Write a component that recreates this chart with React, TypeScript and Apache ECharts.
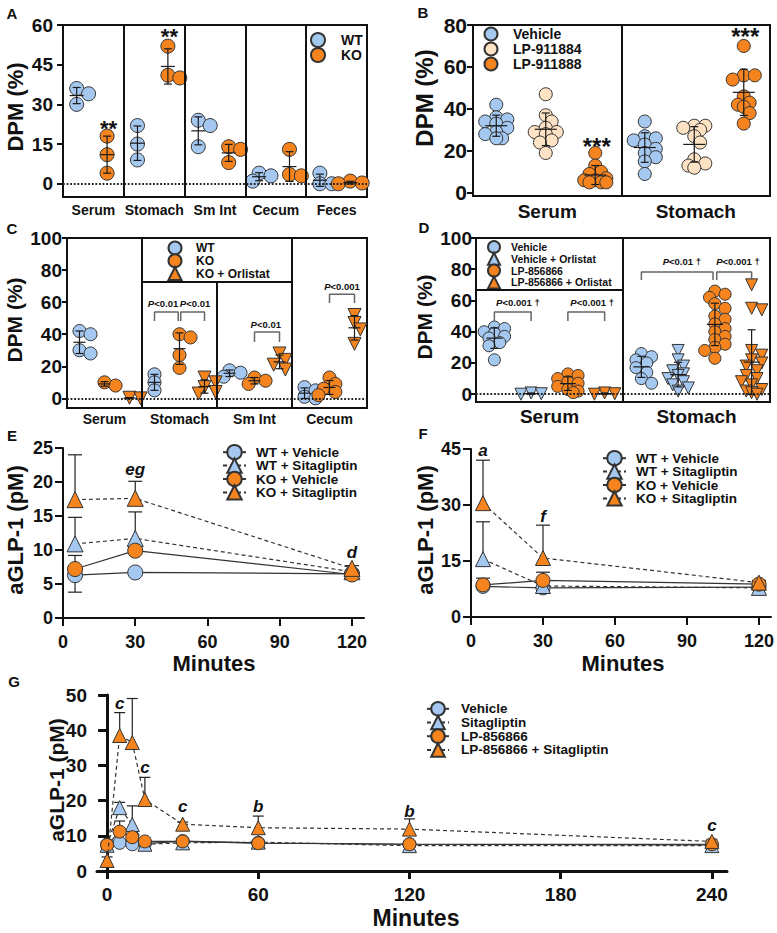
import { useEffect, useRef } from 'react';
import * as echarts from 'echarts';

const FONT = '"Liberation Sans", Arial, Helvetica, sans-serif';
const INK = '#111111';
const EDGE = '#333333';
const BLUE = '#a5c8f0';
const ORANGE = '#f5841f';
const PEACH = '#fde2c4';

// ---- A: tissue DPM, WT vs KO ----
const aTissues = ['Serum', 'Stomach', 'Sm Int', 'Cecum', 'Feces'];
const aWT = [[36, 34, 30], [22, 15, 9], [24, 22, 14], [4, 3, 1], [4, 0, 0]];
const aKO = [[18, 11, 4], [52, 41, 40], [14, 13, 8], [13, 3.5, 3], [1, 0.3, 0]];
const aTicks = [0, 15, 30, 45, 60];
const aStars = [{ text: '**', x: 1.5, y: 20.8 }, { text: '**', x: 3.5, y: 55.6 }];

// ---- B: vehicle vs LP compounds ----
const bTissues = ['Serum', 'Stomach'];
const bVehicle = [[42, 36, 35, 34, 33, 31, 29, 28, 26, 26], [34, 27, 26, 25, 23, 21, 19, 17, 15, 9]];
const bLP911884 = [[47, 37, 34, 31, 29, 29, 28, 25, 24, 19], [32, 32, 31, 30, 27, 24, 16, 14, 13, 12]];
const bLP911888 = [[19, 13, 10, 9, 7, 6, 6, 5, 5, 5], [70, 56, 56, 54, 46, 43, 42, 41, 38, 33]];
const bTicks = [0, 20, 40, 60, 80];
const bStars = [{ text: '***', x: 2.5, y: 22 }, { text: '***', x: 5.5, y: 74.3 }];

// ---- C: WT / KO / KO + Orlistat ----
const cTissues = ['Serum', 'Stomach', 'Sm Int', 'Cecum'];
const cWT = [[42, 40, 30, 28], [15, 10, 5], [17.5, 16, 13.5], [7, 5, 1, 0]];
const cKO = [[10, 8], [40, 38, 27, 19], [13, 11, 9], [13, 9, 6, 4, 2]];
const cKOOrlistat = [[0.4, 0], [13, 10, 7, 4, 3], [28, 24, 21, 18], [52, 47, 43, 34]];
const cTicks = [0, 20, 40, 60, 80, 100];
const cBrackets = [
  { x1: 3.5, x2: 4.45, y0: 48.3, y1: 53.9, tx: 3.84, ty: 58.9, text: '<0.01' },
  { x1: 4.55, x2: 5.5, y0: 48.3, y1: 53.9, tx: 5.12, ty: 58.9, text: '<0.01' },
  { x1: 7.5, x2: 8.5, y0: 35.2, y1: 41.4, tx: 7.95, ty: 45.8, text: '<0.01' },
  { x1: 10.5, x2: 11.5, y0: 59.5, y1: 65, tx: 11.0, ty: 69.5, text: '<0.001' },
];

// ---- D: Vehicle / LP-856866 with and without Orlistat ----
const dTissues = ['Serum', 'Stomach'];
const dVehicle = [[43, 42, 40, 39, 37, 36, 33, 31, 22], [26, 24, 22, 20, 17, 14, 10, 7]];
const dVehicleOrlistat = [[0.8, 0.3, 0], [28, 22, 18, 15, 13, 12, 10, 8, 6, 4, 2]];
const dLP856866 = [[13, 12, 10, 8, 7, 5, 3, 2, 1], [66, 64, 62, 58, 55, 50, 48, 45, 42, 40, 37, 35, 32, 30, 28, 23]];
const dLP856866Orlistat = [[0.8, 0.3, 0], [70, 55, 54, 28, 25, 22, 20, 18, 15, 12, 10, 8, 6, 3, 2, 1, 0]];
const dTicks = [0, 20, 40, 60, 80, 100];
const dBrackets = [
  { x1: 0.5, x2: 1.5, y0: 46.9, y1: 52.6, tx: 1.14, ty: 58.4, text: '<0.001 †' },
  { x1: 2.5, x2: 3.5, y0: 46.9, y1: 52.6, tx: 3.16, ty: 58.4, text: '<0.001 †' },
  { x1: 4.5, x2: 6.45, y0: 73.1, y1: 78.2, tx: 5.6, ty: 85, text: '<0.01 †' },
  { x1: 6.55, x2: 7.5, y0: 73.1, y1: 78.2, tx: 7.13, ty: 85, text: '<0.001 †' },
];

// ---- E: aGLP-1, 0-120 min ----
const eTimes = [5, 30, 120];
const eWTVehicle = [6.3, 6.7, 6.5];
const eWTVehicleSD = [2.5, 0.4, 0.3];
const eWTSitagliptin = [10.9, 11.7, 6.8];
const eWTSitagliptinSD = [3.9, 3.9, 0.3];
const eKOVehicle = [7.2, 9.9, 6.4];
const eKOVehicleSD = [2.0, 0.4, 0.3];
const eKOSitagliptin = [17.4, 17.6, 7.3];
const eKOSitagliptinSD = [6.6, 2.5, 0.4];
const eLetters = [{ text: 'e', x: 5, y: 25.2 }, { text: 'eg', x: 30, y: 21.8 }, { text: 'd', x: 120, y: 9.7 }];

// ---- F: aGLP-1, 0-120 min ----
const fTimes = [5, 30, 120];
const fWTVehicle = [8.2, 7.8, 8.0];
const fWTVehicleSD = [0.8, 0.5, 0.5];
const fWTSitagliptin = [15.5, 8.3, 7.8];
const fWTSitagliptinSD = [10, 1, 0.5];
const fKOVehicle = [8.6, 9.8, 8.8];
const fKOVehicleSD = [1.8, 2.2, 0.5];
const fKOSitagliptin = [30.5, 15.8, 9.2];
const fKOSitagliptinSD = [11.5, 8.8, 0.6];
const fLetters = [{ text: 'a', x: 5, y: 44.7 }, { text: 'f', x: 30, y: 27 }];

// ---- G: aGLP-1, 0-240 min ----
const gTimes = [0, 5, 10, 15, 30, 60, 120, 240];
const gVehicle = [7.5, 8, 7.6, 7.8, 8.5, 8, 7.6, 7.4];
const gVehicleSD = [0.8, 0.5, 0.5, 0.5, 0.5, 0.5, 0.5, 0.5];
const gSitagliptin = [7.3, 18, 13.2, 7.6, 8, 8.2, 7.2, 7.2];
const gSitagliptinSD = [0.5, 1.5, 5.3, 0.5, 0.5, 0.5, 0.5, 0.5];
const gLP856866 = [7.4, 11.2, 9.6, 8.4, 8.4, 7.9, 7.6, 7.6];
const gLP856866SD = [0.8, 3, 0.8, 0.6, 0.6, 0.5, 0.5, 0.5];
const gLP856866Sitagliptin = [3, 38.5, 36.5, 20.3, 13.3, 12.3, 11.9, 8.4];
const gLP856866SitagliptinSD = [1, 6.5, 12.5, 6.3, 0.6, 3.3, 2.9, 0.6];
const gLetters = [
  { text: 'c', x: 5, y: 47.5 }, { text: 'b', x: 10, y: 51.5 }, { text: 'c', x: 15, y: 29.5 },
  { text: 'c', x: 30, y: 18.2 }, { text: 'b', x: 60, y: 18.2 }, { text: 'b', x: 120, y: 17 },
  { text: 'c', x: 240, y: 13 },
];

const mean = (v: number[]) => v.reduce((a, b) => a + b, 0) / v.length;
const sd = (v: number[]) => {
  if (v.length < 2) return 0;
  const m = mean(v);
  return Math.sqrt(v.reduce((a, b) => a + (b - m) * (b - m), 0) / (v.length - 1));
};

// Spread overlapping dots sideways (compact beeswarm in pixel space).
function swarm(values: number[], center: number, d: number, pxX: number, pxY: number) {
  const placed: { px: number; py: number }[] = [];
  const out: number[][] = [];
  const sorted = [...values].sort((a, b) => b - a);
  const offsets = [0, 0.45, -0.45, 0.85, -0.85].map((f) => f * d);
  for (const v of sorted) {
    const py = v * pxY;
    let best = 0;
    let bestDist = -1;
    for (const off of offsets) {
      const md = placed.length ? Math.min(...placed.map((p) => Math.hypot(p.px - off, p.py - py))) : Infinity;
      if (md >= d * 0.6) {
        best = off;
        break;
      }
      if (md > bestDist + 1.5) {
        bestDist = md;
        best = off;
      }
    }
    placed.push({ px: best, py });
    out.push([center + best / pxX, v]);
  }
  return out;
}

const seg = (x1: number, y1: number, x2: number, y2: number, st: any) => ({ type: 'line', shape: { x1, y1, x2, y2 }, style: st });

const dotErr = (meanHalf: number, capHalf: number) => (_p: any, api: any) => {
  const x = api.value(0);
  const m = api.value(1);
  const s = api.value(2);
  const c = api.coord([x, m]);
  const hi = api.coord([x, m + s]);
  const lo = api.coord([x, m - s]);
  const st = { stroke: '#1a1a1a', lineWidth: 1.2, fill: null };
  return {
    type: 'group',
    children: [
      seg(c[0] - meanHalf, c[1], c[0] + meanHalf, c[1], st),
      seg(c[0], hi[1], c[0], lo[1], st),
      seg(c[0] - capHalf, hi[1], c[0] + capHalf, hi[1], st),
      seg(c[0] - capHalf, lo[1], c[0] + capHalf, lo[1], st),
    ],
  };
};

const lineErr = (capHalf: number) => (_p: any, api: any) => {
  const x = api.value(0);
  const y = api.value(1);
  const e = api.value(2);
  const dir = api.value(3);
  const p0 = api.coord([x, y]);
  const p1 = api.coord([x, y + dir * e]);
  const st = { stroke: '#222', lineWidth: 1.2, fill: null };
  return {
    type: 'group',
    children: [seg(p0[0], p0[1], p1[0], p1[1], st), seg(p1[0] - capHalf, p1[1], p1[0] + capHalf, p1[1], st)],
  };
};

const boldText = (size: number, extra: any = {}) => ({ fontFamily: FONT, fontWeight: 'bold', fontSize: size, color: INK, ...extra });

function buildOption() {
  const series: any[] = [];

  const grids = [
    { left: 63, top: 25, width: 304, height: 172, show: true, borderColor: INK, borderWidth: 2 },
    { left: 473, top: 25, width: 297, height: 171, show: true, borderColor: INK, borderWidth: 2 },
    { left: 67, top: 238, width: 300, height: 170, show: true, borderColor: INK, borderWidth: 2 },
    { left: 476, top: 238, width: 294, height: 164, show: true, borderColor: INK, borderWidth: 2 },
    { left: 63, top: 448, width: 301, height: 170 },
    { left: 471, top: 449, width: 301, height: 168 },
    { left: 97, top: 695, width: 630, height: 176 },
  ];

  const boxY = (gi: number, min: number, max: number, ticks: number[], fontSize: number, margin: number, tickLen: number) => ({
    gridIndex: gi, type: 'value', min, max,
    axisLine: { show: true, onZero: false, lineStyle: { color: INK, width: 2 } },
    axisTick: { show: true, length: tickLen, customValues: ticks, lineStyle: { color: INK, width: 2 } },
    axisLabel: { customValues: ticks, margin, ...boldText(fontSize) },
    splitLine: { show: false },
  });
  const boxX = (gi: number, names: string[], slots: number, fontSize: number, margin: number) => {
    const centers = names.map((_, k) => k * slots + slots / 2);
    return {
      gridIndex: gi, type: 'value', min: 0, max: names.length * slots,
      axisLine: { show: false, onZero: false }, axisTick: { show: false }, splitLine: { show: false },
      axisLabel: {
        customValues: centers,
        formatter: (v: number) => names[Math.round((v - slots / 2) / slots)] ?? '',
        margin, ...boldText(fontSize),
      },
    };
  };
  const plainY = (gi: number, max: number, interval: number, fontSize: number, width: number, tickLen: number) => ({
    gridIndex: gi, type: 'value', min: 0, max, interval,
    axisLine: { show: true, onZero: true, lineStyle: { color: INK, width } },
    axisTick: { show: true, length: tickLen, lineStyle: { color: INK, width } },
    axisLabel: { margin: 10, ...boldText(fontSize) },
    splitLine: { show: false },
  });
  const timeX = (gi: number) => ({
    gridIndex: gi, type: 'value', min: 0, max: 125, interval: 30,
    axisLine: { show: true, onZero: false, lineStyle: { color: INK, width: 2 } },
    axisTick: { show: true, length: 8, lineStyle: { color: INK, width: 2 } },
    axisLabel: { margin: 15, ...boldText(18) }, splitLine: { show: false },
  });

  const xAxes: any[] = [
    boxX(0, aTissues, 2, 14, 6),
    boxX(1, bTissues, 3, 19, 6),
    boxX(2, cTissues, 3, 14, 4),
    boxX(3, dTissues, 4, 19, 5),
    timeX(4),
    timeX(5),
    {
      gridIndex: 6, type: 'value', min: -4, max: 246,
      axisLine: { show: true, onZero: false, lineStyle: { color: INK, width: 3 } },
      axisTick: { show: true, length: 8, customValues: [0, 60, 120, 180, 240], lineStyle: { color: INK, width: 3 } },
      axisLabel: { customValues: [0, 60, 120, 180, 240], margin: 14, ...boldText(19) }, splitLine: { show: false },
    },
  ];
  const yAxes: any[] = [
    boxY(0, -5, 60, aTicks, 19, 10, 6),
    boxY(1, -1.5, 80, bTicks, 21, 6, 6),
    boxY(2, -6, 100, cTicks, 19, 5, 5),
    boxY(3, -5, 100, dTicks, 19, 4, 5),
    plainY(4, 25, 5, 18, 2, 8),
    plainY(5, 45, 15, 18, 2, 8),
    plainY(6, 50, 10, 19, 3, 9),
  ];

  const dotted = { type: 'dotted', width: 1.8, color: '#222' };

  type DotGroup = { name: string; values: number[][]; color: string; symbol: string; rotate?: number };
  const addDotPanel = (
    gi: number, groups: DotGroup[], slots: number, size: number, meanHalf: number, capHalf: number, marks: any[], shift = 0,
  ) => {
    const g = grids[gi];
    const xAx = xAxes[gi];
    const yAx = yAxes[gi];
    const pxX = g.width / (xAx.max - xAx.min);
    const pxY = g.height / (yAx.max - yAx.min);
    const errData: number[][] = [];
    groups.forEach((grp, s) => {
      const pts: number[][] = [];
      grp.values.forEach((vals, k) => {
        const center = k * slots + s + 0.5 + shift;
        pts.push(...swarm(vals, center, size, pxX, pxY));
        errData.push([center, mean(vals), sd(vals)]);
      });
      series.push({
        type: 'scatter', name: grp.name, xAxisIndex: gi, yAxisIndex: gi, data: pts,
        symbol: grp.symbol, symbolRotate: grp.rotate || 0, symbolSize: size, silent: true, z: 3,
        itemStyle: { color: grp.color, borderColor: EDGE, borderWidth: 1, opacity: 1 },
        markLine: s === 0 ? {
          silent: true, symbol: ['none', 'none'], label: { show: false },
          lineStyle: { color: INK, width: 2, type: 'solid' }, data: marks,
        } : undefined,
      });
    });
    series.push({
      type: 'custom', xAxisIndex: gi, yAxisIndex: gi, data: errData, encode: { x: 0, y: 1 },
      renderItem: dotErr(meanHalf, capHalf), z: 5, silent: true,
    });
  };

  // Text annotations anchored to data coordinates
  const addNotes = (gi: number, notes: { text: string; x: number; y: number }[], size: number, italic = false) => {
    series.push({
      type: 'scatter', xAxisIndex: gi, yAxisIndex: gi, silent: true, symbolSize: 1, z: 8,
      itemStyle: { color: 'transparent', opacity: 1 },
      data: notes.map((s) => ({ name: s.text, value: [s.x, s.y] })),
      label: { show: true, position: 'inside', formatter: '{b}', ...boldText(size, italic ? { fontStyle: 'italic' } : {}) },
    });
  };

  const addBrackets = (gi: number, brackets: any[]) => {
    brackets.forEach((b) => {
      series.push({
        type: 'line', xAxisIndex: gi, yAxisIndex: gi, silent: true, symbol: 'none', z: 4,
        data: [[b.x1, b.y0], [b.x1, b.y1], [b.x2, b.y1], [b.x2, b.y0]],
        lineStyle: { color: '#666', width: 1.5 },
      });
    });
    series.push({
      type: 'scatter', xAxisIndex: gi, yAxisIndex: gi, silent: true, symbolSize: 1, z: 6,
      itemStyle: { color: 'transparent', opacity: 1 },
      data: brackets.map((b) => ({ value: [b.tx, b.ty], label: { formatter: '{i|P}{n|' + b.text + '}' } })),
      label: {
        show: true, position: 'inside',
        rich: {
          i: { fontFamily: FONT, fontWeight: 'bold', fontStyle: 'italic', fontSize: 9.5, color: INK },
          n: { fontFamily: FONT, fontWeight: 'bold', fontSize: 9.5, color: INK },
        },
      },
    });
  };

  // A
  addDotPanel(0, [
    { name: 'A|WT', values: aWT, color: BLUE, symbol: 'circle' },
    { name: 'A|KO', values: aKO, color: ORANGE, symbol: 'circle' },
  ], 2, 14, 7, 4, [{ yAxis: 0, lineStyle: dotted }, { xAxis: 2 }, { xAxis: 4 }, { xAxis: 6 }, { xAxis: 8 }], -0.05);
  addNotes(0, aStars, 22);

  // B
  addDotPanel(1, [
    { name: 'B|Vehicle', values: bVehicle, color: BLUE, symbol: 'circle' },
    { name: 'B|LP-911884', values: bLP911884, color: PEACH, symbol: 'circle' },
    { name: 'B|LP-911888', values: bLP911888, color: ORANGE, symbol: 'circle' },
  ], 3, 13, 11, 4, [{ xAxis: 3 }], -0.03);
  addNotes(1, bStars, 24);

  // C
  addDotPanel(2, [
    { name: 'C|WT', values: cWT, color: BLUE, symbol: 'circle' },
    { name: 'C|KO', values: cKO, color: ORANGE, symbol: 'circle' },
    { name: 'C|KO + Orlistat', values: cKOOrlistat, color: ORANGE, symbol: 'triangle', rotate: 180 },
  ], 3, 13, 6, 4, [
    { yAxis: 0, lineStyle: dotted }, { xAxis: 3 }, { xAxis: 9 },
    [{ coord: [6, -6] }, { coord: [6, 73] }],
    [{ coord: [3, 73] }, { coord: [9, 73] }],
  ]);
  addBrackets(2, cBrackets);

  // D
  addDotPanel(3, [
    { name: 'D|Vehicle', values: dVehicle, color: BLUE, symbol: 'circle' },
    { name: 'D|Vehicle + Orlistat', values: dVehicleOrlistat, color: BLUE, symbol: 'triangle', rotate: 180 },
    { name: 'D|LP-856866', values: dLP856866, color: ORANGE, symbol: 'circle' },
    { name: 'D|LP-856866 + Orlistat', values: dLP856866Orlistat, color: ORANGE, symbol: 'triangle', rotate: 180 },
  ], 4, 12, 8, 4, [
    { yAxis: 0, lineStyle: dotted }, { xAxis: 4 },
    [{ coord: [0, 67] }, { coord: [4, 67] }],
  ]);
  addBrackets(3, dBrackets);

  // Line panels
  type LineGroup = { name: string; values: number[]; errs: number[]; dir: number; color: string; symbol: string; dashed: boolean };
  const addLinePanel = (gi: number, times: number[], groups: LineGroup[], size: number, capHalf: number) => {
    const errData: number[][] = [];
    groups.forEach((g) => {
      g.values.forEach((v, i) => errData.push([times[i], v, g.errs[i], g.dir]));
    });
    series.push({
      type: 'custom', xAxisIndex: gi, yAxisIndex: gi, data: errData, encode: { x: 0, y: 1 },
      renderItem: lineErr(capHalf), z: 1, silent: true,
    });
    groups.forEach((g, k) => {
      series.push({
        type: 'line', name: g.name, xAxisIndex: gi, yAxisIndex: gi, silent: true,
        data: times.map((t, i) => [t, g.values[i]]),
        symbol: g.symbol, symbolSize: g.symbol === 'triangle' ? size + 1 : size, showSymbol: true,
        itemStyle: { color: g.color, borderColor: EDGE, borderWidth: 1 },
        lineStyle: { color: '#333', width: 1.2, type: g.dashed ? [4, 3] : 'solid' },
        z: 2 + k,
      });
    });
  };

  addLinePanel(4, eTimes, [
    { name: 'E|WT + Vehicle', values: eWTVehicle, errs: eWTVehicleSD, dir: -1, color: BLUE, symbol: 'circle', dashed: false },
    { name: 'E|WT + Sitagliptin', values: eWTSitagliptin, errs: eWTSitagliptinSD, dir: 1, color: BLUE, symbol: 'triangle', dashed: true },
    { name: 'E|KO + Vehicle', values: eKOVehicle, errs: eKOVehicleSD, dir: 1, color: ORANGE, symbol: 'circle', dashed: false },
    { name: 'E|KO + Sitagliptin', values: eKOSitagliptin, errs: eKOSitagliptinSD, dir: 1, color: ORANGE, symbol: 'triangle', dashed: true },
  ], 15, 7);
  addNotes(4, eLetters, 17, true);

  addLinePanel(5, fTimes, [
    { name: 'F|WT + Vehicle', values: fWTVehicle, errs: fWTVehicleSD, dir: 1, color: BLUE, symbol: 'circle', dashed: false },
    { name: 'F|WT + Sitagliptin', values: fWTSitagliptin, errs: fWTSitagliptinSD, dir: 1, color: BLUE, symbol: 'triangle', dashed: true },
    { name: 'F|KO + Vehicle', values: fKOVehicle, errs: fKOVehicleSD, dir: 1, color: ORANGE, symbol: 'circle', dashed: false },
    { name: 'F|KO + Sitagliptin', values: fKOSitagliptin, errs: fKOSitagliptinSD, dir: 1, color: ORANGE, symbol: 'triangle', dashed: true },
  ], 14, 7);
  addNotes(5, fLetters, 17, true);

  addLinePanel(6, gTimes, [
    { name: 'G|Vehicle', values: gVehicle, errs: gVehicleSD, dir: 1, color: BLUE, symbol: 'circle', dashed: false },
    { name: 'G|Sitagliptin', values: gSitagliptin, errs: gSitagliptinSD, dir: 1, color: BLUE, symbol: 'triangle', dashed: true },
    { name: 'G|LP-856866', values: gLP856866, errs: gLP856866SD, dir: 1, color: ORANGE, symbol: 'circle', dashed: false },
    { name: 'G|LP-856866 + Sitagliptin', values: gLP856866Sitagliptin, errs: gLP856866SitagliptinSD, dir: 1, color: ORANGE, symbol: 'triangle', dashed: true },
  ], 13, 5.5);
  addNotes(6, gLetters, 17, true);

  const strip = (n: string) => n.slice(n.indexOf('|') + 1);
  const legend = (
    names: string[], left: number, top: number, w: number, h: number, gap: number, fontSize: number, pad: number, lineHeight?: number,
  ) => ({
    data: names, left, top, orient: 'vertical', itemWidth: w, itemHeight: h, itemGap: gap,
    selectedMode: false, formatter: strip, padding: 0,
    textStyle: { ...boldText(fontSize), padding: [0, 0, 0, pad], ...(lineHeight ? { lineHeight } : {}) },
  });

  const legends = [
    legend(['A|WT', 'A|KO'], 310, 32, 14, 14, -1, 14, 11),
    legend(['B|Vehicle', 'B|LP-911884', 'B|LP-911888'], 483.5, 26.5, 13, 13, 0, 14, 10.5),
    legend(['C|WT', 'C|KO', 'C|KO + Orlistat'], 167.5, 240.5, 13, 13, -2.2, 12, 9.5),
    legend(['D|Vehicle', 'D|Vehicle + Orlistat', 'D|LP-856866', 'D|LP-856866 + Orlistat'], 487, 240, 12, 12, -2.2, 10.5, 6),
    legend(['E|WT + Vehicle', 'E|WT + Sitagliptin', 'E|KO + Vehicle', 'E|KO + Sitagliptin'], 222, 444, 23, 18, -3, 13.5, 5, 14),
    legend(['F|WT + Vehicle', 'F|WT + Sitagliptin', 'F|KO + Vehicle', 'F|KO + Sitagliptin'], 602, 450, 23, 18, -3, 13.5, 5, 14),
    legend(['G|Vehicle', 'G|Sitagliptin', 'G|LP-856866', 'G|LP-856866 + Sitagliptin'], 426, 701, 22, 17, -1.9, 13.5, 7, 14),
  ];

  const txt = (text: string, x: number, y: number, size: number, rotated = false) => ({
    type: 'text', x, y, rotation: rotated ? Math.PI / 2 : 0, silent: true,
    style: { text, font: `bold ${size}px ${FONT}`, fill: INK, textAlign: 'center', textVerticalAlign: 'middle' },
  });
  const graphic = [
    txt('A', 12, 13, 15), txt('B', 423, 12, 15), txt('C', 12, 228, 15), txt('D', 424, 227, 15),
    txt('E', 12, 435, 15), txt('F', 423, 433, 15), txt('G', 14, 681, 15),
    txt('DPM (%)', 15, 107, 22, true), txt('DPM (%)', 424, 98, 24, true),
    txt('DPM (%)', 14, 320, 21, true), txt('DPM (%)', 424, 317, 21, true),
    txt('aGLP-1 (pM)', 15, 530, 22, true), txt('aGLP-1 (pM)', 425, 530, 22, true),
    txt('aGLP-1 (pM)', 56, 780, 21, true),
    txt('Minutes', 214, 663, 22), txt('Minutes', 623, 663, 22), txt('Minutes', 416, 918, 23),
  ];

  return {
    animation: false,
    backgroundColor: '#ffffff',
    textStyle: { fontFamily: FONT },
    grid: grids,
    xAxis: xAxes,
    yAxis: yAxes,
    legend: legends,
    series,
    graphic,
  };
}

export default function App() {
  const ref = useRef<HTMLDivElement>(null);
  useEffect(() => {
    if (!ref.current) return;
    const chart = echarts.init(ref.current, undefined, { renderer: 'svg' });
    chart.setOption(buildOption() as any);
    return () => chart.dispose();
  }, []);
  return <div ref={ref} style={{ position: 'absolute', left: 0, top: 0, width: 777, height: 933, background: '#fff' }} />;
}
